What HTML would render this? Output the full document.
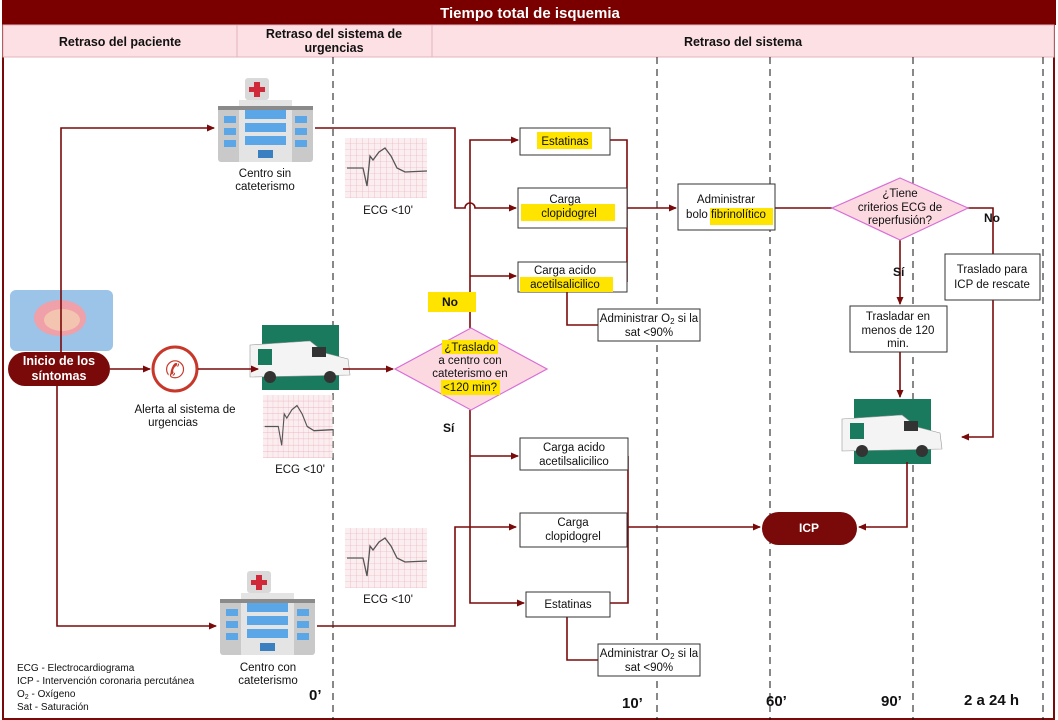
<!DOCTYPE html>
<html><head><meta charset="utf-8"><style>
body{margin:0;background:#fff}
svg{display:block;font-family:"Liberation Sans",Arial,sans-serif}
</style></head><body>
<svg width="1058" height="720" viewBox="0 0 1058 720" xmlns="http://www.w3.org/2000/svg">
<defs>
<marker id="a" markerWidth="8" markerHeight="8" refX="7" refY="4" orient="auto" markerUnits="userSpaceOnUse"><path d="M0,0.5 L8,4 L0,7.5z" fill="#7a0a0a"/></marker>
<pattern id="g" width="6" height="6" patternUnits="userSpaceOnUse"><rect width="6" height="6" fill="#fbeef0"/><path d="M6,0V6M0,6H6" stroke="#e8a8b4" stroke-width="0.6"/></pattern>
<g id="hosp">
<rect x="27" y="0" width="24" height="22" rx="3" fill="#d9d9d9"/>
<rect x="36" y="4" width="6" height="15" fill="#d0293a"/><rect x="31" y="9" width="16" height="5" fill="#d0293a"/>
<rect x="0" y="28" width="95" height="56" rx="3" fill="#c9c9c9"/>
<rect x="21" y="22" width="53" height="62" fill="#e4e4e4"/>
<rect x="0" y="28" width="95" height="4" fill="#8a8a8a"/>
<rect x="27" y="32" width="41" height="9" fill="#5aa6e6"/><rect x="27" y="45" width="41" height="9" fill="#5aa6e6"/><rect x="27" y="58" width="41" height="9" fill="#5aa6e6"/>
<rect x="6" y="38" width="12" height="7" fill="#5aa6e6"/><rect x="6" y="50" width="12" height="7" fill="#5aa6e6"/><rect x="6" y="62" width="12" height="7" fill="#5aa6e6"/>
<rect x="77" y="38" width="12" height="7" fill="#5aa6e6"/><rect x="77" y="50" width="12" height="7" fill="#5aa6e6"/><rect x="77" y="62" width="12" height="7" fill="#5aa6e6"/>
<rect x="40" y="72" width="15" height="8" fill="#3a7fc0"/>
</g>
<g id="ecg">
<rect width="82" height="60" fill="url(#g)"/>
<path d="M2,30 L18,30 L22,48 L25,18 L28,22 L34,14 L40,10 L46,18 L52,30 L60,34 L82,33" fill="none" stroke="#555" stroke-width="1.3"/>
</g>
<g id="amb">
<rect x="12" y="0" width="77" height="65" fill="#1a7a5e"/>
<path d="M0,20 L60,16 L75,28 L98,34 L100,50 L0,52z" fill="#f4f4f4" stroke="#999" stroke-width="0.6"/>
<rect x="8" y="24" width="14" height="16" fill="#1a7a5e"/>
<rect x="62" y="22" width="14" height="10" fill="#333"/>
<circle cx="20" cy="52" r="6" fill="#333"/><circle cx="80" cy="52" r="6" fill="#333"/>
</g>
</defs>

<rect x="3" y="1" width="1051" height="718" fill="none" stroke="#7a0a0a" stroke-width="2"/>
<rect x="2" y="0" width="1054" height="25" fill="#7a0000"/>
<text x="530" y="18" font-size="15" font-weight="bold" fill="#fff" text-anchor="middle">Tiempo total de isquemia</text>
<rect x="3" y="25" width="1051" height="32" fill="#fde0e4" stroke="#e4b3bb" stroke-width="1"/>
<line x1="237" y1="25" x2="237" y2="57" stroke="#e4b3bb"/><line x1="432" y1="25" x2="432" y2="57" stroke="#e4b3bb"/>
<g font-size="12.5" font-weight="bold" fill="#111" text-anchor="middle">
<text x="120" y="46">Retraso del paciente</text>
<text x="334" y="38">Retraso del sistema de</text><text x="334" y="52">urgencias</text>
<text x="743" y="46">Retraso del sistema</text>
</g>

<g stroke="#111" stroke-width="1" stroke-dasharray="7,5">
<line x1="333" y1="57" x2="333" y2="720"/><line x1="657" y1="57" x2="657" y2="720"/>
<line x1="770" y1="57" x2="770" y2="720"/><line x1="913" y1="57" x2="913" y2="720"/>
<line x1="1043" y1="57" x2="1043" y2="720"/>
</g>

<use href="#hosp" x="218" y="78"/>
<use href="#hosp" x="220" y="571"/>
<use href="#ecg" x="345" y="138"/>
<use href="#ecg" x="345" y="528"/>
<use href="#ecg" x="263" y="395" transform="translate(263 395) scale(0.85 1.05) translate(-263 -395)"/>
<use href="#amb" x="250" y="325"/>
<use href="#amb" x="842" y="399"/>
<rect x="10" y="290" width="103" height="61" rx="6" fill="#9cc3e8"/>
<ellipse cx="60" cy="318" rx="26" ry="18" fill="#f0a0a8"/>
<ellipse cx="62" cy="320" rx="18" ry="11" fill="#f3c4b0"/>
<rect x="8" y="352" width="102" height="34" rx="17" fill="#7a0a0a"/>
<text x="59" y="365" font-size="12.5" font-weight="bold" fill="#fff" text-anchor="middle">Inicio de los</text>
<text x="59" y="380" font-size="12.5" font-weight="bold" fill="#fff" text-anchor="middle">síntomas</text>
<circle cx="175" cy="369" r="22" fill="#fff" stroke="#c8382a" stroke-width="3"/>
<text x="175" y="378" font-size="24" fill="#c8382a" text-anchor="middle">✆</text>

<g stroke="#7a0a0a" stroke-width="1.6" fill="none">
<path d="M61,352 V128 H214" marker-end="url(#a)"/>
<path d="M57,386 V626 H216" marker-end="url(#a)"/>
<path d="M110,369 H150" marker-end="url(#a)"/>
<path d="M198,369 H258" marker-end="url(#a)"/>
<path d="M343,369 H393" marker-end="url(#a)"/>
<path d="M315,128 H455 V208 H465 A5,5 0 0 1 475,208 H516" marker-end="url(#a)"/>
<path d="M317,626 H455 V527 H516" marker-end="url(#a)"/>
<path d="M470,328 V140 H518" marker-end="url(#a)"/>
<path d="M470,276 H516" marker-end="url(#a)"/>
<path d="M470,410 V603 H524" marker-end="url(#a)"/>
<path d="M470,456 H518" marker-end="url(#a)"/>
<path d="M610,140 H627 V282 H627"/>
<path d="M627,208 H676" marker-end="url(#a)"/>
<path d="M567,292 V325 H598"/>
<path d="M775,208 H832"/>
<path d="M967,208 H993 V254"/>
<path d="M993,300 V437 H962" marker-end="url(#a)"/>
<path d="M900,240 V304" marker-end="url(#a)"/>
<path d="M900,352 V397" marker-end="url(#a)"/>
<path d="M907,462 V527 H859" marker-end="url(#a)"/>
<path d="M628,456 V603 H610"/>
<path d="M627,527 H760" marker-end="url(#a)"/>
<path d="M567,617 V660 H598"/>
</g>

<polygon points="471,328 547,369 471,410 395,369" fill="#fcd9e1" stroke="#d86ed8" stroke-width="1.2"/>
<rect x="442" y="340" width="56" height="14" fill="#ffe400"/>
<rect x="441" y="380" width="59" height="15" fill="#ffe400"/>
<g font-size="11.5" fill="#111" text-anchor="middle">
<text x="470" y="351">¿Traslado</text><text x="470" y="364">a centro con</text><text x="470" y="377">cateterismo en</text><text x="470" y="391">&lt;120 min?</text>
</g>
<polygon points="900,178 968,208 900,240 832,208" fill="#fcd9e1" stroke="#d86ed8" stroke-width="1.2"/>
<g font-size="11.5" fill="#111" text-anchor="middle">
<text x="900" y="197">¿Tiene</text><text x="900" y="211">criterios ECG de</text><text x="900" y="224">reperfusión?</text>
</g>

<g fill="#fff" stroke="#333" stroke-width="1">
<rect x="520" y="128" width="90" height="27"/>
<rect x="518" y="188" width="109" height="40"/>
<rect x="518" y="262" width="109" height="30"/>
<rect x="598" y="309" width="102" height="32"/>
<rect x="678" y="184" width="97" height="46"/>
<rect x="945" y="254" width="95" height="46"/>
<rect x="850" y="306" width="97" height="46"/>
<rect x="520" y="438" width="108" height="32"/>
<rect x="520" y="513" width="107" height="34"/>
<rect x="526" y="592" width="84" height="25"/>
<rect x="598" y="644" width="102" height="32"/>
</g>
<g fill="#ffe400">
<rect x="537" y="132" width="55" height="17"/>
<rect x="521" y="204" width="94" height="17"/>
<rect x="520" y="277" width="93" height="15"/>
<rect x="710" y="208" width="63" height="17"/>
<rect x="428" y="292" width="48" height="20"/>
</g>
<g font-size="11.5" fill="#111" text-anchor="middle">
<text x="565" y="145">Estatinas</text>
<text x="565" y="203">Carga</text><text x="569" y="217">clopidogrel</text>
<text x="565" y="274">Carga acido</text><text x="565" y="288">acetilsalicilico</text>
<text x="649" y="322">Administrar O<tspan font-size="8" dy="2">2</tspan><tspan dy="-2"> si la</tspan></text><text x="649" y="336">sat &lt;90%</text>
<text x="726" y="203">Administrar</text><text x="726" y="218">bolo fibrinolítico</text>
<text x="992" y="273">Traslado para</text><text x="992" y="288">ICP de rescate</text>
<text x="898" y="320">Trasladar en</text><text x="898" y="334">menos de 120</text><text x="898" y="347">min.</text>
<text x="574" y="451">Carga acido</text><text x="574" y="465">acetilsalicilico</text>
<text x="573" y="526">Carga</text><text x="573" y="540">clopidogrel</text>
<text x="568" y="608">Estatinas</text>
<text x="649" y="657">Administrar O<tspan font-size="8" dy="2">2</tspan><tspan dy="-2"> si la</tspan></text><text x="649" y="671">sat &lt;90%</text>
<text x="265" y="177">Centro sin</text><text x="265" y="190">cateterismo</text>
<text x="268" y="671">Centro con</text><text x="268" y="684">cateterismo</text>
<text x="388" y="214">ECG &lt;10'</text>
<text x="388" y="603">ECG &lt;10'</text>
<text x="300" y="473">ECG &lt;10'</text>
<text x="185" y="413">Alerta al sistema de</text><text x="173" y="426">urgencias</text>
</g>
<g font-size="12" font-weight="bold" fill="#111">
<text x="442" y="306">No</text>
<text x="443" y="432">Sí</text>
<text x="893" y="276">Sí</text>
<text x="984" y="222">No</text>
</g>
<rect x="762" y="512" width="95" height="33" rx="16.5" fill="#7a0a0a"/>
<text x="809" y="532" font-size="12" font-weight="bold" fill="#fff" text-anchor="middle">ICP</text>

<g font-size="10" fill="#111">
<text x="17" y="671">ECG  -  Electrocardiograma</text>
<text x="17" y="684">ICP    -  Intervención coronaria percutánea</text>
<text x="17" y="697">O<tspan font-size="7" dy="2">2</tspan><tspan dy="-2">       -  Oxígeno</tspan></text>
<text x="17" y="710">Sat     - Saturación</text>
</g>
<g font-size="15" font-weight="bold" fill="#111">
<text x="309" y="700">0’</text>
<text x="622" y="708">10’</text>
<text x="766" y="706">60’</text>
<text x="881" y="706">90’</text>
<text x="964" y="705">2 a 24 h</text>
</g>
</svg>
</body></html>
